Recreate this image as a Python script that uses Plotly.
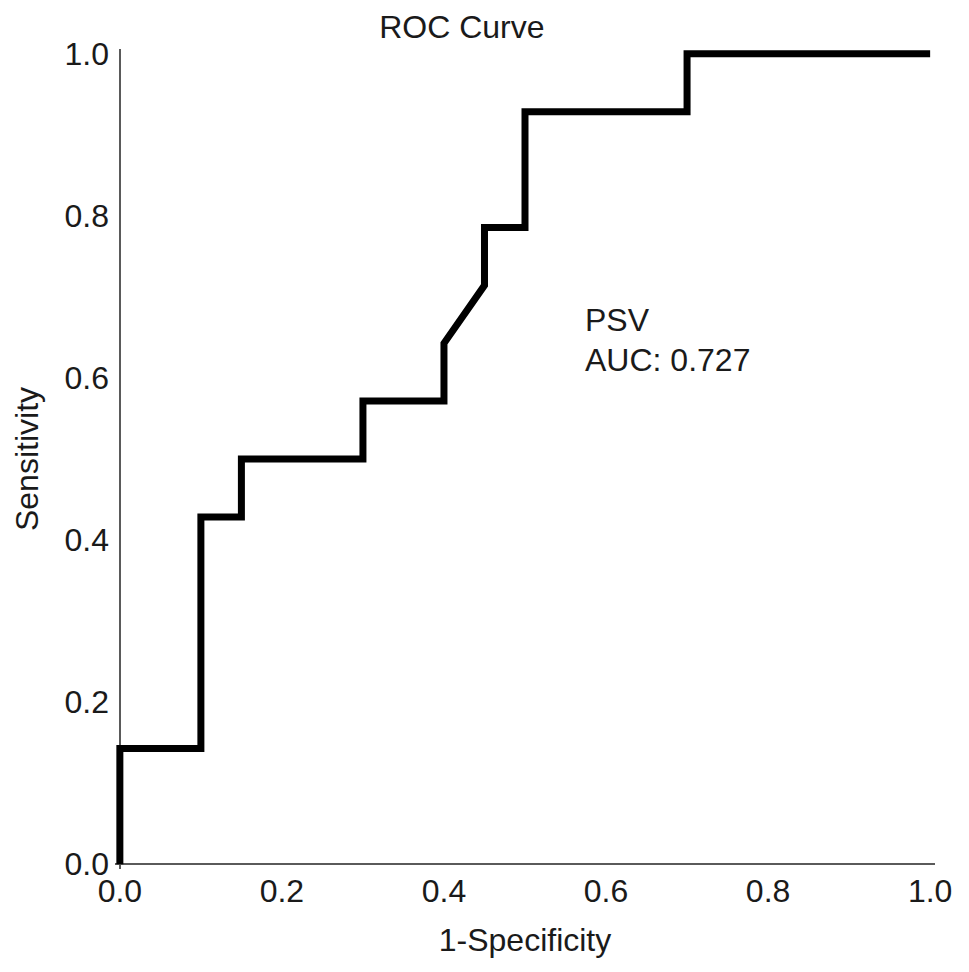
import plotly.graph_objects as go

# ROC curve points (1-Specificity, Sensitivity)
fpr = [0.0, 0.0, 0.10, 0.10, 0.15, 0.15, 0.30, 0.30, 0.40, 0.40, 0.45, 0.45, 0.50, 0.50, 0.70, 0.70, 1.0]
tpr = [0.0, 2/14, 2/14, 6/14, 6/14, 7/14, 7/14, 8/14, 8/14, 9/14, 10/14, 11/14, 11/14, 13/14, 13/14, 1.0, 1.0]

tick_vals = [0.0, 0.2, 0.4, 0.6, 0.8, 1.0]
tick_text = ["0.0", "0.2", "0.4", "0.6", "0.8", "1.0"]

label_lines = ["PSV", "AUC: 0.727"]
label_y = [0.671, 0.622]

FONT = "Liberation Sans, Arial, Helvetica, sans-serif"
TXT = "#1a1a1a"
AX = "#5a5a5a"
FS = 32

fig = go.Figure()
fig.add_trace(go.Scatter(
    x=fpr, y=tpr, mode="lines",
    line=dict(color="black", width=7),
    showlegend=False, hoverinfo="skip",
))

for txt, yy in zip(label_lines, label_y):
    fig.add_annotation(x=0.572, y=yy, xref="x", yref="y", text=txt,
                       showarrow=False, xanchor="left", yanchor="middle",
                       font=dict(family=FONT, size=FS, color=TXT))

fig.update_layout(
    width=969, height=972,
    margin=dict(l=107, r=42, t=41, b=111),
    paper_bgcolor="white", plot_bgcolor="white",
    font=dict(family=FONT, size=FS, color=TXT),
    title=dict(text="ROC Curve", x=0.423, xref="paper", xanchor="center",
               y=0.9805, yref="container", yanchor="middle",
               font=dict(family=FONT, size=FS, color=TXT)),
)
fig.update_xaxes(
    range=[-0.006, 1.006], showgrid=False, showline=False,
    zeroline=True, zerolinecolor=AX, zerolinewidth=2,
    tickvals=tick_vals, ticktext=tick_text, ticks="",
    tickfont=dict(family=FONT, size=FS, color=TXT),
    title=dict(text="1-Specificity", font=dict(family=FONT, size=FS, color=TXT), standoff=20),
    fixedrange=True,
)
fig.update_yaxes(
    range=[-0.006, 1.006], showgrid=False, showline=False,
    zeroline=True, zerolinecolor=AX, zerolinewidth=2,
    tickvals=tick_vals, ticktext=tick_text, ticks="",
    ticklabelstandoff=5,
    tickfont=dict(family=FONT, size=FS, color=TXT),
    title=dict(text="Sensitivity", font=dict(family=FONT, size=FS, color=TXT), standoff=16),
    fixedrange=True,
)

fig.write_html("out.html")
